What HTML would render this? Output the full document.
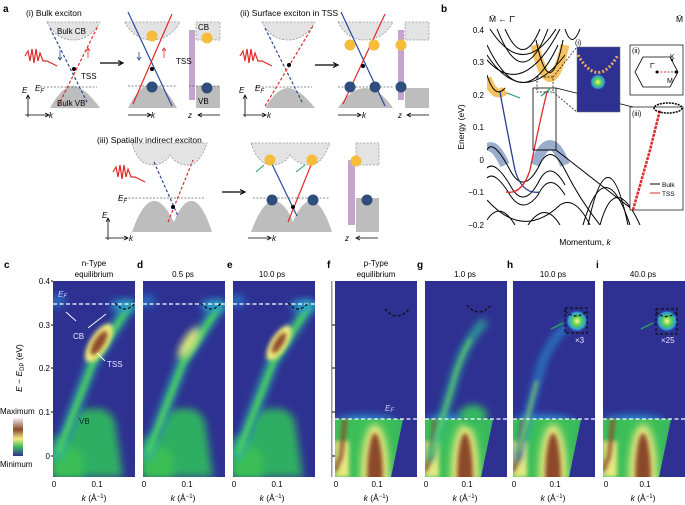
<!DOCTYPE html>
<html><head><meta charset="utf-8"><style>
html,body{margin:0;padding:0;background:#fff}
svg{display:block;font-family:"Liberation Sans",sans-serif}
</style></head><body>
<svg width="685" height="505" viewBox="0 0 685 505" xmlns="http://www.w3.org/2000/svg">
<defs>
<filter id="b2" x="-50%" y="-50%" width="200%" height="200%"><feGaussianBlur stdDeviation="2"/></filter>
<filter id="b4" x="-50%" y="-50%" width="200%" height="200%"><feGaussianBlur stdDeviation="4"/></filter>
<filter id="b7" x="-50%" y="-50%" width="200%" height="200%"><feGaussianBlur stdDeviation="7"/></filter>
<clipPath id="pc"><rect x="0" y="0" width="82" height="196"/></clipPath>
<clipPath id="belowEF"><path d="M0,138 L68,138 L56,196 L0,196Z"/></clipPath>
<linearGradient id="cbar" x1="0" y1="0" x2="0" y2="1">
<stop offset="0" stop-color="#f4f0f0"/><stop offset="0.3" stop-color="#8b4a2b"/><stop offset="0.55" stop-color="#f5ee80"/><stop offset="0.75" stop-color="#3cbf5a"/><stop offset="1" stop-color="#2e3192"/></linearGradient>
<radialGradient id="blob"><stop offset="0" stop-color="#fafa90"/><stop offset="0.4" stop-color="#5fd050"/><stop offset="0.8" stop-color="#2a9adc"/><stop offset="1" stop-color="#2e3192" stop-opacity="0"/></radialGradient>
<g id="ntype">
 <rect width="82" height="196" fill="#2e3192"/>
 <path d="M0,196 L0,160 Q8,150 14,160 Q22,125 38,128 Q55,125 62,140 L70,196Z" fill="#2fae62" filter="url(#b4)"/>
 <path d="M0,196 L0,170 Q20,160 30,175 L30,196Z" fill="#3bbf55" filter="url(#b4)"/>
 <path d="M3,178 L40,80 L78,22" stroke="#2db0a0" stroke-width="10" fill="none" filter="url(#b4)"/>
 <path d="M5,172 L40,82 L76,25" stroke="#4fd050" stroke-width="4" fill="none" filter="url(#b2)"/>
 <ellipse cx="70" cy="25" rx="12" ry="6" fill="#28a0d0" filter="url(#b4)"/>
 <ellipse cx="4" cy="20" rx="8" ry="6" fill="#2870c8" filter="url(#b4)"/>
</g>
<g id="ptype">
 <rect width="82" height="196" fill="#2e3192"/>
 <ellipse cx="30" cy="140" rx="30" ry="6" fill="#2a8ad0" filter="url(#b4)"/>
 <g clip-path="url(#belowEF)">
  <rect x="0" y="130" width="82" height="70" fill="#3cbf58"/>
  <ellipse cx="40" cy="195" rx="14" ry="52" fill="#f0ec80" filter="url(#b4)"/>
  <ellipse cx="40" cy="198" rx="8" ry="46" fill="#8b4a2b" filter="url(#b2)"/>
  <rect x="0" y="160" width="14" height="36" fill="#e8e880" filter="url(#b2)"/>
  <rect x="60" y="130" width="22" height="70" fill="#35b06a" filter="url(#b4)" opacity="0.5"/>
 </g>
 <path d="M10,138 L6,175 L0,190" stroke="#8b4a2b" stroke-width="4" fill="none" filter="url(#b2)"/>
</g>
</defs>

<!-- ===== Panel a ===== -->
<text x="3" y="12" font-size="10" font-weight="bold">a</text>
<g font-size="8.5">
<text x="26" y="16">(i) Bulk exciton</text>
<text x="240" y="16">(ii) Surface exciton in TSS</text>
<text x="97" y="143">(iii) Spatially indirect exciton</text>
</g>

<g id="d1">
 <path d="M47,22 L100,22 Q90,40 73,40 Q56,40 47,22Z" fill="#e3e3e3" stroke="#999" stroke-dasharray="2,1.5" stroke-width="0.8"/>
 <path d="M50,108 Q62,86 73,86 Q84,86 100,108Z" fill="#bdbdbd"/>
 <line x1="40" y1="87" x2="97" y2="87" stroke="#666" stroke-dasharray="2,1.5" stroke-width="0.8"/>
 <line x1="50" y1="28" x2="88" y2="104" stroke="#2a4a9a" stroke-dasharray="3,2" stroke-width="1.2"/>
 <line x1="58" y1="106" x2="98" y2="26" stroke="#e02a2a" stroke-dasharray="3,2" stroke-width="1.2"/>
 <circle cx="74" cy="69" r="2" fill="#000"/>
 <path d="M25,56 l3,-5 l2,10 l2,-12 l2,14 l2,-14 l2,12 l2,-8 l3,8 l4,0 l10,5" stroke="#e02a2a" fill="none" stroke-width="1.2"/>
 <path d="M60,50 l0,10 M58,57 l2,3 l2,-3" stroke="#2a4a9a" fill="none" stroke-width="0.8"/>
 <path d="M88,58 l0,-10 M86,51 l2,-3 l2,3" stroke="#e02a2a" fill="none" stroke-width="0.8"/>
 <text x="57" y="34" font-size="8">Bulk CB</text>
 <text x="57" y="106" font-size="8">Bulk VB</text>
 <text x="81" y="79" font-size="8">TSS</text>
 <text x="35" y="91" font-size="8" font-style="italic">E<tspan font-size="6" dy="2">F</tspan></text>
 <path d="M28,117 L28,96 M26,99 L28,95 L30,99 M25,115 L48,115 M45,113 L49,115 L45,117" stroke="#000" fill="none" stroke-width="0.8"/>
 <text x="22" y="93" font-size="8" font-style="italic">E</text>
 <text x="49" y="118" font-size="8" font-style="italic">k</text>
</g>
<path d="M100,63 L121,63 M118,60.5 L123,63 L118,65.5" stroke="#000" stroke-width="1.2" fill="none"/>
<g id="d2">
 <path d="M125,22 L180,22 Q170,40 152,40 Q134,40 125,22Z" fill="#e3e3e3" stroke="#999" stroke-dasharray="2,1.5" stroke-width="0.8"/>
 <path d="M128,108 Q140,84 152,84 Q164,84 177,108Z" fill="#bdbdbd"/>
 <line x1="128" y1="86" x2="177" y2="86" stroke="#666" stroke-dasharray="2,1.5" stroke-width="0.8"/>
 <line x1="128" y1="12" x2="172" y2="106" stroke="#2a4a9a" stroke-width="1.2"/>
 <line x1="133" y1="104" x2="172" y2="14" stroke="#e02a2a" stroke-width="1.2"/>
 <circle cx="152" cy="69" r="2" fill="#000"/>
 <circle cx="152" cy="36" r="5.5" fill="#f6bd3c"/>
 <circle cx="152" cy="87" r="5.5" fill="#2f4e7e"/>
 <path d="M139,52 l0,8 M137,57 l2,3 l2,-3" stroke="#2a4a9a" fill="none" stroke-width="0.8"/>
 <path d="M164,58 l0,-10 M162,51 l2,-3 l2,3" stroke="#e02a2a" fill="none" stroke-width="0.8"/>
 <path d="M128,115 L150,115 M147,113 L151,115 L147,117" stroke="#000" fill="none" stroke-width="0.8"/>
 <text x="151" y="118" font-size="8" font-style="italic">k</text>
 <rect x="189" y="30" width="6" height="70" fill="#c7a3cf"/>
 <rect x="196" y="22" width="24" height="18" fill="#e3e3e3" stroke="#999" stroke-dasharray="2,1.5" stroke-width="0.8"/>
 <rect x="196" y="86" width="24" height="22" fill="#bdbdbd"/>
 <line x1="189" y1="86" x2="220" y2="86" stroke="#666" stroke-dasharray="2,1.5" stroke-width="0.8"/>
 <circle cx="207" cy="38" r="5.5" fill="#f6bd3c"/>
 <circle cx="207" cy="88" r="5.5" fill="#2f4e7e"/>
 <text x="198" y="30" font-size="8">CB</text>
 <text x="198" y="104" font-size="8">VB</text>
 <text x="176" y="64" font-size="8">TSS</text>
 <text x="188" y="118" font-size="8" font-style="italic">z</text>
 <path d="M220,115 L199,115 M202,113 L198,115 L202,117" stroke="#000" fill="none" stroke-width="0.8"/>
</g>
<g transform="translate(215,0)">
 <path d="M47,22 L100,22 Q90,40 73,40 Q56,40 47,22Z" fill="#e3e3e3" stroke="#999" stroke-dasharray="2,1.5" stroke-width="0.8"/>
 <path d="M50,108 Q62,88 73,88 Q84,88 100,108Z" fill="#bdbdbd"/>
 <line x1="40" y1="87" x2="97" y2="87" stroke="#666" stroke-dasharray="2,1.5" stroke-width="0.8"/>
 <line x1="50" y1="28" x2="88" y2="104" stroke="#2a4a9a" stroke-dasharray="3,2" stroke-width="1.2"/>
 <line x1="50" y1="106" x2="98" y2="26" stroke="#e02a2a" stroke-dasharray="3,2" stroke-width="1.2"/>
 <circle cx="74" cy="65" r="2" fill="#000"/>
 <path d="M25,56 l3,-5 l2,10 l2,-12 l2,14 l2,-14 l2,12 l2,-8 l3,8 l4,0 l10,5" stroke="#e02a2a" fill="none" stroke-width="1.2"/>
 <text x="40" y="91" font-size="8" font-style="italic">E<tspan font-size="6" dy="2">F</tspan></text>
 <path d="M30,117 L30,96 M28,99 L30,95 L32,99 M28,115 L50,115 M47,113 L51,115 L47,117" stroke="#000" fill="none" stroke-width="0.8"/>
 <text x="24" y="93" font-size="8" font-style="italic">E</text>
 <text x="52" y="118" font-size="8" font-style="italic">k</text>
</g>
<path d="M315,65 L336,65 M333,62.5 L338,65 L333,67.5" stroke="#000" stroke-width="1.2" fill="none"/>
<g transform="translate(213,0)">
 <path d="M125,22 L180,22 Q170,40 152,40 Q134,40 125,22Z" fill="#e3e3e3" stroke="#999" stroke-dasharray="2,1.5" stroke-width="0.8"/>
 <path d="M125,108 Q138,88 152,88 Q166,88 180,108Z" fill="#bdbdbd"/>
 <line x1="125" y1="87" x2="180" y2="87" stroke="#666" stroke-dasharray="2,1.5" stroke-width="0.8"/>
 <line x1="128" y1="12" x2="172" y2="106" stroke="#2a4a9a" stroke-width="1.2"/>
 <line x1="130" y1="104" x2="172" y2="14" stroke="#e02a2a" stroke-width="1.2"/>
 <circle cx="150" cy="66" r="2" fill="#000"/>
 <circle cx="137" cy="45" r="5.5" fill="#f6bd3c"/><circle cx="161" cy="45" r="5.5" fill="#f6bd3c"/>
 <circle cx="137" cy="87" r="5.5" fill="#2f4e7e"/><circle cx="162" cy="87" r="5.5" fill="#2f4e7e"/>
 <path d="M125,115 L147,115 M144,113 L148,115 L144,117" stroke="#000" fill="none" stroke-width="0.8"/>
 <text x="149" y="118" font-size="8" font-style="italic">k</text>
 <rect x="185" y="30" width="6" height="70" fill="#c7a3cf"/>
 <rect x="192" y="22" width="24" height="18" fill="#e3e3e3" stroke="#999" stroke-dasharray="2,1.5" stroke-width="0.8"/>
 <rect x="192" y="88" width="24" height="20" fill="#bdbdbd"/>
 <circle cx="188" cy="45" r="5.5" fill="#f6bd3c"/>
 <circle cx="188" cy="87" r="5.5" fill="#2f4e7e"/>
 <text x="185" y="118" font-size="8" font-style="italic">z</text>
 <path d="M216,115 L195,115 M198,113 L194,115 L198,117" stroke="#000" fill="none" stroke-width="0.8"/>
</g>
<g>
 <path d="M132,143 L207,143 Q200,165 188,165 Q176,165 170,155 Q164,165 152,165 Q138,165 132,143Z" fill="#e3e3e3" stroke="#999" stroke-dasharray="2,1.5" stroke-width="0.8"/>
 <path d="M132,232 Q150,180 170,215 L174,222 L177,215 Q195,180 212,232Z" fill="#bdbdbd"/>
 <line x1="118" y1="198" x2="205" y2="198" stroke="#666" stroke-dasharray="2,1.5" stroke-width="0.8"/>
 <line x1="154" y1="162" x2="178" y2="216" stroke="#2a4a9a" stroke-dasharray="3,2" stroke-width="1.2"/>
 <line x1="168" y1="222" x2="193" y2="160" stroke="#e02a2a" stroke-dasharray="3,2" stroke-width="1.2"/>
 <circle cx="173" cy="207" r="2" fill="#000"/>
 <path d="M113,172 l3,-5 l2,10 l2,-12 l2,14 l2,-14 l2,12 l2,-8 l3,8 l4,0 l10,5" stroke="#e02a2a" fill="none" stroke-width="1.2"/>
 <text x="118" y="201" font-size="8" font-style="italic">E<tspan font-size="6" dy="2">F</tspan></text>
 <path d="M108,240 L108,219 M106,222 L108,218 L110,222 M105,238 L127,238 M124,236 L128,238 L124,240" stroke="#000" fill="none" stroke-width="0.8"/>
 <text x="102" y="218" font-size="8" font-style="italic">E</text>
 <text x="129" y="241" font-size="8" font-style="italic">k</text>
</g>
<path d="M222,192 L243,192 M240,189.5 L245,192 L240,194.5" stroke="#000" stroke-width="1.2" fill="none"/>
<g>
 <path d="M251,143 L330,143 Q322,165 310,165 Q298,165 290,155 Q284,165 272,165 Q258,165 251,143Z" fill="#e3e3e3" stroke="#999" stroke-dasharray="2,1.5" stroke-width="0.8"/>
 <path d="M251,232 Q270,180 290,215 L293,222 L296,215 Q315,180 332,232Z" fill="#bdbdbd"/>
 <line x1="253" y1="198" x2="330" y2="198" stroke="#666" stroke-dasharray="2,1.5" stroke-width="0.8"/>
 <line x1="270" y1="160" x2="297" y2="216" stroke="#2a4a9a" stroke-width="1.2"/>
 <line x1="288" y1="222" x2="313" y2="160" stroke="#e02a2a" stroke-width="1.2"/>
 <circle cx="293" cy="207" r="2" fill="#000"/>
 <circle cx="270" cy="160" r="5.5" fill="#f6bd3c"/><circle cx="312" cy="160" r="5.5" fill="#f6bd3c"/>
 <circle cx="272" cy="200" r="5.5" fill="#2f4e7e"/><circle cx="313" cy="200" r="5.5" fill="#2f4e7e"/>
 <path d="M256,172 L264,165 M296,172 L305,165" stroke="#2aa060" stroke-width="1"/>
 <path d="M248,238 L270,238 M267,236 L271,238 L267,240" stroke="#000" fill="none" stroke-width="0.8"/>
 <text x="272" y="241" font-size="8" font-style="italic">k</text>
 <rect x="348" y="160" width="7" height="65" fill="#c7a3cf"/>
 <rect x="356" y="143" width="23" height="22" fill="#e3e3e3" stroke="#999" stroke-dasharray="2,1.5" stroke-width="0.8"/>
 <rect x="356" y="198" width="23" height="34" fill="#bdbdbd"/>
 <circle cx="356" cy="161" r="5.5" fill="#f6bd3c"/>
 <circle cx="367" cy="200" r="5.5" fill="#2f4e7e"/>
 <text x="345" y="241" font-size="8" font-style="italic">z</text>
 <path d="M378,238 L357,238 M360,236 L356,238 L360,240" stroke="#000" fill="none" stroke-width="0.8"/>
</g>

<!-- ===== Panel b ===== -->
<text x="441" y="12" font-size="10" font-weight="bold">b</text>
<text x="489" y="22" font-size="8.5">M̄ ← Γ̄</text>
<text x="676" y="22" font-size="8.5">M̄</text>
<g font-size="8" text-anchor="end">
<text x="484" y="33">0.4</text><text x="484" y="65">0.3</text><text x="484" y="98">0.2</text><text x="484" y="130">0.1</text><text x="484" y="163">0</text><text x="484" y="195">−0.1</text><text x="484" y="228">−0.2</text>
</g>
<text x="0" y="0" font-size="8.5" text-anchor="middle" transform="translate(464,127) rotate(-90)">Energy (eV)</text>
<text x="585" y="245" font-size="8.5" text-anchor="middle">Momentum, <tspan font-style="italic">k</tspan></text>
<clipPath id="bc"><rect x="487" y="29" width="196" height="196"/></clipPath>
<g clip-path="url(#bc)" fill="none">
 <path d="M487,78 Q495,100 505,90 M535,45 Q550,110 565,45" stroke="#f2b33c" stroke-width="9" opacity="0.8"/>
 <path d="M487,150 Q493,140 505,165 M535,165 Q550,125 565,165" stroke="#7f98bf" stroke-width="10" opacity="0.8"/>
 <g stroke="#000" stroke-width="1">
  <path d="M487,75 Q495,100 505,88 M536,40 Q550,105 563,40"/>
  <path d="M487,150 Q493,138 510,170 Q523,195 538,168 Q550,140 565,170 Q580,200 600,225"/>
  <path d="M487,168 Q495,160 510,185 Q523,210 538,183 Q550,158 565,185"/>
  <path d="M487,178 Q495,170 510,195 Q523,215 538,195 Q550,170 565,195"/>
  <path d="M487,200 Q523,240 560,205 Q575,195 590,225"/>
  <path d="M487,220 Q500,200 515,225 M528,225 Q545,200 560,225"/>
  <path d="M497,29 Q523,95 548,29"/><path d="M505,29 Q523,70 540,29"/>
  <path d="M487,45 Q523,120 558,45"/><path d="M487,55 Q523,110 565,55"/>
  <path d="M487,60 Q523,100 560,29"/><path d="M490,29 Q523,80 556,29"/>
  <path d="M565,29 Q572,50 580,29"/>
  <path d="M588,225 Q608,130 628,225"/><path d="M583,225 Q605,150 630,225"/>
  <path d="M600,225 Q615,170 640,225"/>
  <path d="M556,150 L633,210"/><path d="M533,150 L556,150"/>
 </g>
 <path d="M500,92 Q505,120 515,170 Q522,195 540,192" stroke="#2a3c8f" stroke-width="1.3"/>
 <path d="M506,192 Q522,195 530,170 Q540,120 547,92" stroke="#e02a2a" stroke-width="1.3"/>
 <path d="M520,98 L507,93 M541,96 L550,89" stroke="#2aa060" stroke-width="1.2"/>
 <rect x="533" y="88" width="23" height="62" stroke="#000" stroke-width="0.8"/>
 <rect x="537" y="77" width="16" height="15" stroke="#000" stroke-dasharray="2,1.5" stroke-width="0.7"/>
 <path d="M553,77 L577,47 M553,92 L577,112" stroke="#000" stroke-width="0.7" stroke-dasharray="2,1.5"/>
</g>
<path d="M556,88 L633,107" stroke="#000" stroke-width="0.7"/>
<rect x="577" y="47" width="43" height="65" fill="#2e3192" stroke="#666" stroke-width="0.5"/>
<path d="M578,55 Q598,90 618,55" stroke="#e9a95a" stroke-width="3" stroke-dasharray="2,2" fill="none"/>
<circle cx="598" cy="82" r="8" fill="url(#blob)"/>
<text x="575" y="45" font-size="7">(i)</text>
<rect x="630" y="45" width="53" height="50" fill="#fff" stroke="#000" stroke-width="0.7"/>
<text x="632" y="53" font-size="7">(ii)</text>
<polygon points="643,57 670,57 678,72 670,87 643,87 635,72" fill="none" stroke="#000" stroke-width="0.8"/>
<path d="M657,72 L676,72" stroke="#e02a2a" stroke-dasharray="2,1.5"/>
<circle cx="657" cy="72" r="1.5"/><circle cx="676" cy="72" r="1.5"/><circle cx="672" cy="60" r="1.2"/>
<text x="670" y="59" font-size="7">K</text><text x="667" y="83" font-size="7">M</text><text x="650" y="68" font-size="7">Γ̄</text>
<rect x="630" y="107" width="53" height="103" fill="#fff" stroke="#000" stroke-width="0.7"/>
<text x="632" y="116" font-size="7">(iii)</text>
<path d="M633,210 L650,150 L660,110" stroke="#e02a2a" stroke-width="2.5" fill="none" stroke-dasharray="3,1"/>
<ellipse cx="668" cy="108" rx="14" ry="5" fill="none" stroke="#000" stroke-width="1.5" stroke-dasharray="2,1"/>
<line x1="650" y1="184" x2="660" y2="184" stroke="#000"/><text x="662" y="187" font-size="6.5">Bulk</text>
<line x1="650" y1="193" x2="660" y2="193" stroke="#e02a2a"/><text x="662" y="196" font-size="6.5">TSS</text>

<!-- ===== Bottom ARPES ===== -->
<g font-size="10" font-weight="bold">
<text x="4" y="268">c</text><text x="137" y="268">d</text><text x="227" y="268">e</text><text x="327" y="268">f</text><text x="417" y="268">g</text><text x="507" y="268">h</text><text x="596" y="268">i</text>
</g>
<g font-size="8" text-anchor="middle">
<text x="94" y="266">n-Type</text><text x="94" y="277">equilibrium</text>
<text x="183" y="277">0.5 ps</text><text x="272" y="277">10.0 ps</text>
<text x="376" y="266">p-Type</text><text x="376" y="277">equilibrium</text>
<text x="465" y="277">1.0 ps</text><text x="553" y="277">10.0 ps</text><text x="643" y="277">40.0 ps</text>
</g>
<g font-size="8" text-anchor="end">
<text x="50" y="284">0.4</text><text x="50" y="328">0.3</text><text x="50" y="371">0.2</text><text x="50" y="415">0.1</text><text x="50" y="459">0</text>
</g>
<text font-size="8.5" text-anchor="middle" transform="translate(22,368) rotate(-90)"><tspan font-style="italic">E</tspan> − <tspan font-style="italic">E</tspan><tspan font-size="6" dy="2">DP</tspan><tspan dy="-2"> (eV)</tspan></text>
<rect x="13" y="418" width="10" height="38" fill="url(#cbar)"/>
<text x="0" y="414" font-size="8">Maximum</text><text x="0" y="467" font-size="8">Minimum</text>
<rect x="331" y="281" width="1.5" height="196" fill="#999"/>

<g transform="translate(53,281)"><g clip-path="url(#pc)">
 <use href="#ntype"/>
 <ellipse cx="46" cy="62" rx="22" ry="9" transform="rotate(-58 46 62)" fill="#f4ee7a" filter="url(#b2)"/>
 <ellipse cx="46" cy="62" rx="14" ry="5" transform="rotate(-58 46 62)" fill="#8b4a2b" filter="url(#b2)"/>
 <line x1="0" y1="23" x2="82" y2="23" stroke="#fff" stroke-dasharray="4,2.5" stroke-width="1.2"/>
 <path d="M62,22 Q72,34 82,22" stroke="#111" stroke-dasharray="3,2" stroke-width="1.3" fill="none"/>
</g>
 <text x="5" y="16" font-size="8" fill="#cfd0ff" font-style="italic">E<tspan font-size="6" dy="1">F</tspan></text>
 <text x="20" y="58" font-size="8" fill="#e8e8ff">CB</text>
 <text x="54" y="86" font-size="8" fill="#e8e8ff">TSS</text>
 <text x="26" y="143" font-size="8" fill="#123">VB</text>
 <path d="M23,40 L13,31 M35,47 L53,33 M52,80 L44,72" stroke="#fff" stroke-width="0.9"/>
</g>
<g transform="translate(143,281)"><g clip-path="url(#pc)">
 <use href="#ntype"/>
 <ellipse cx="46" cy="62" rx="18" ry="6" transform="rotate(-58 46 62)" fill="#e4ec7a" filter="url(#b4)"/>
 <line x1="0" y1="23" x2="82" y2="23" stroke="#fff" stroke-dasharray="4,2.5" stroke-width="1.2"/>
 <path d="M58,22 Q68,34 78,22" stroke="#111" stroke-dasharray="3,2" stroke-width="1.3" fill="none"/>
</g></g>
<g transform="translate(233,281)"><g clip-path="url(#pc)">
 <use href="#ntype"/>
 <ellipse cx="46" cy="62" rx="20" ry="8" transform="rotate(-58 46 62)" fill="#f4ee7a" filter="url(#b2)"/>
 <ellipse cx="46" cy="62" rx="12" ry="4" transform="rotate(-58 46 62)" fill="#8b4a2b" filter="url(#b2)"/>
 <line x1="0" y1="23" x2="82" y2="23" stroke="#fff" stroke-dasharray="4,2.5" stroke-width="1.2"/>
 <path d="M55,22 Q65,34 75,22" stroke="#111" stroke-dasharray="3,2" stroke-width="1.3" fill="none"/>
</g></g>
<g transform="translate(335,281)"><g clip-path="url(#pc)">
 <use href="#ptype"/>
 <line x1="0" y1="138" x2="82" y2="138" stroke="#fff" stroke-dasharray="4,2.5" stroke-width="1.2"/>
 <path d="M50,28 Q62,42 74,28" stroke="#111" stroke-dasharray="3,2" stroke-width="1.3" fill="none"/>
</g><text x="50" y="130" font-size="8" fill="#cfd0ff" font-style="italic">E<tspan font-size="6" dy="1">F</tspan></text></g>
<g transform="translate(425,281)"><g clip-path="url(#pc)">
 <use href="#ptype"/>
 <ellipse cx="48" cy="134" rx="14" ry="10" fill="#36b860" filter="url(#b4)"/>
 <path d="M4,180 Q20,130 30,95 Q40,60 60,40" stroke="#2bb09a" stroke-width="7" fill="none" filter="url(#b4)"/>
 <path d="M6,175 Q20,130 30,95 Q38,70 46,58" stroke="#6fd45a" stroke-width="2.5" fill="none" filter="url(#b2)"/>
 <line x1="0" y1="138" x2="82" y2="138" stroke="#fff" stroke-dasharray="4,2.5" stroke-width="1.2"/>
 <path d="M42,24 Q54,38 66,24" stroke="#111" stroke-dasharray="3,2" stroke-width="1.3" fill="none"/>
</g></g>
<g transform="translate(513,281)"><g clip-path="url(#pc)">
 <use href="#ptype"/>
 <path d="M4,180 Q18,120 30,80 Q40,55 58,42" stroke="#2a8ad0" stroke-width="6" fill="none" filter="url(#b4)"/>
 <path d="M6,170 Q16,130 24,100" stroke="#8fdc50" stroke-width="2.5" fill="none" filter="url(#b2)"/>
 <line x1="0" y1="138" x2="82" y2="138" stroke="#fff" stroke-dasharray="4,2.5" stroke-width="1.2"/>
 <rect x="52" y="27" width="22" height="25" fill="#2e3192"/>
 <circle cx="64" cy="40" r="11" fill="url(#blob)"/>
 <rect x="52" y="27" width="22" height="25" fill="none" stroke="#111" stroke-dasharray="3,2" stroke-width="1.2"/>
 <path d="M52,30 Q63,40 74,30" stroke="#111" stroke-dasharray="3,2" stroke-width="1.2" fill="none"/>
 <path d="M38,48 L50,42" stroke="#2aa060" stroke-width="1.5"/>
</g><text x="62" y="62" font-size="8" fill="#e8e8ff">×3</text></g>
<g transform="translate(603,281)"><g clip-path="url(#pc)">
 <use href="#ptype"/>
 <line x1="0" y1="138" x2="82" y2="138" stroke="#fff" stroke-dasharray="4,2.5" stroke-width="1.2"/>
 <circle cx="64" cy="40" r="11" fill="url(#blob)"/>
 <rect x="53" y="28" width="21" height="25" fill="none" stroke="#111" stroke-dasharray="3,2" stroke-width="1.2"/>
 <path d="M53,31 Q63,40 74,31" stroke="#111" stroke-dasharray="3,2" stroke-width="1.2" fill="none"/>
 <path d="M38,48 L50,42" stroke="#2aa060" stroke-width="1.5"/>
</g><text x="58" y="62" font-size="8" fill="#e8e8ff">×25</text></g>

<g stroke="#000" stroke-width="1">
<path d="M51,281 h2 M51,325 h2 M51,368 h2 M51,412 h2 M51,456 h2"/>
<path d="M332,325 h3 M332,368 h3 M332,412 h3 M332,456 h3"/>
</g>
<g font-size="8" text-anchor="middle">
<text x="54" y="487">0</text><text x="97" y="487">0.1</text>
<text x="144" y="487">0</text><text x="187" y="487">0.1</text>
<text x="234" y="487">0</text><text x="277" y="487">0.1</text>
<text x="336" y="487">0</text><text x="377" y="487">0.1</text>
<text x="426" y="487">0</text><text x="467" y="487">0.1</text>
<text x="514" y="487">0</text><text x="555" y="487">0.1</text>
<text x="606" y="487">0</text><text x="645" y="487">0.1</text>
</g>
<g font-size="8.5" text-anchor="middle">
<text x="94" y="501"><tspan font-style="italic">k</tspan> (Å<tspan font-size="6" dy="-3">−1</tspan><tspan dy="3">)</tspan></text>
<text x="183" y="501"><tspan font-style="italic">k</tspan> (Å<tspan font-size="6" dy="-3">−1</tspan><tspan dy="3">)</tspan></text>
<text x="272" y="501"><tspan font-style="italic">k</tspan> (Å<tspan font-size="6" dy="-3">−1</tspan><tspan dy="3">)</tspan></text>
<text x="376" y="501"><tspan font-style="italic">k</tspan> (Å<tspan font-size="6" dy="-3">−1</tspan><tspan dy="3">)</tspan></text>
<text x="465" y="501"><tspan font-style="italic">k</tspan> (Å<tspan font-size="6" dy="-3">−1</tspan><tspan dy="3">)</tspan></text>
<text x="553" y="501"><tspan font-style="italic">k</tspan> (Å<tspan font-size="6" dy="-3">−1</tspan><tspan dy="3">)</tspan></text>
<text x="643" y="501"><tspan font-style="italic">k</tspan> (Å<tspan font-size="6" dy="-3">−1</tspan><tspan dy="3">)</tspan></text>
</g>
</svg>
</body></html>
